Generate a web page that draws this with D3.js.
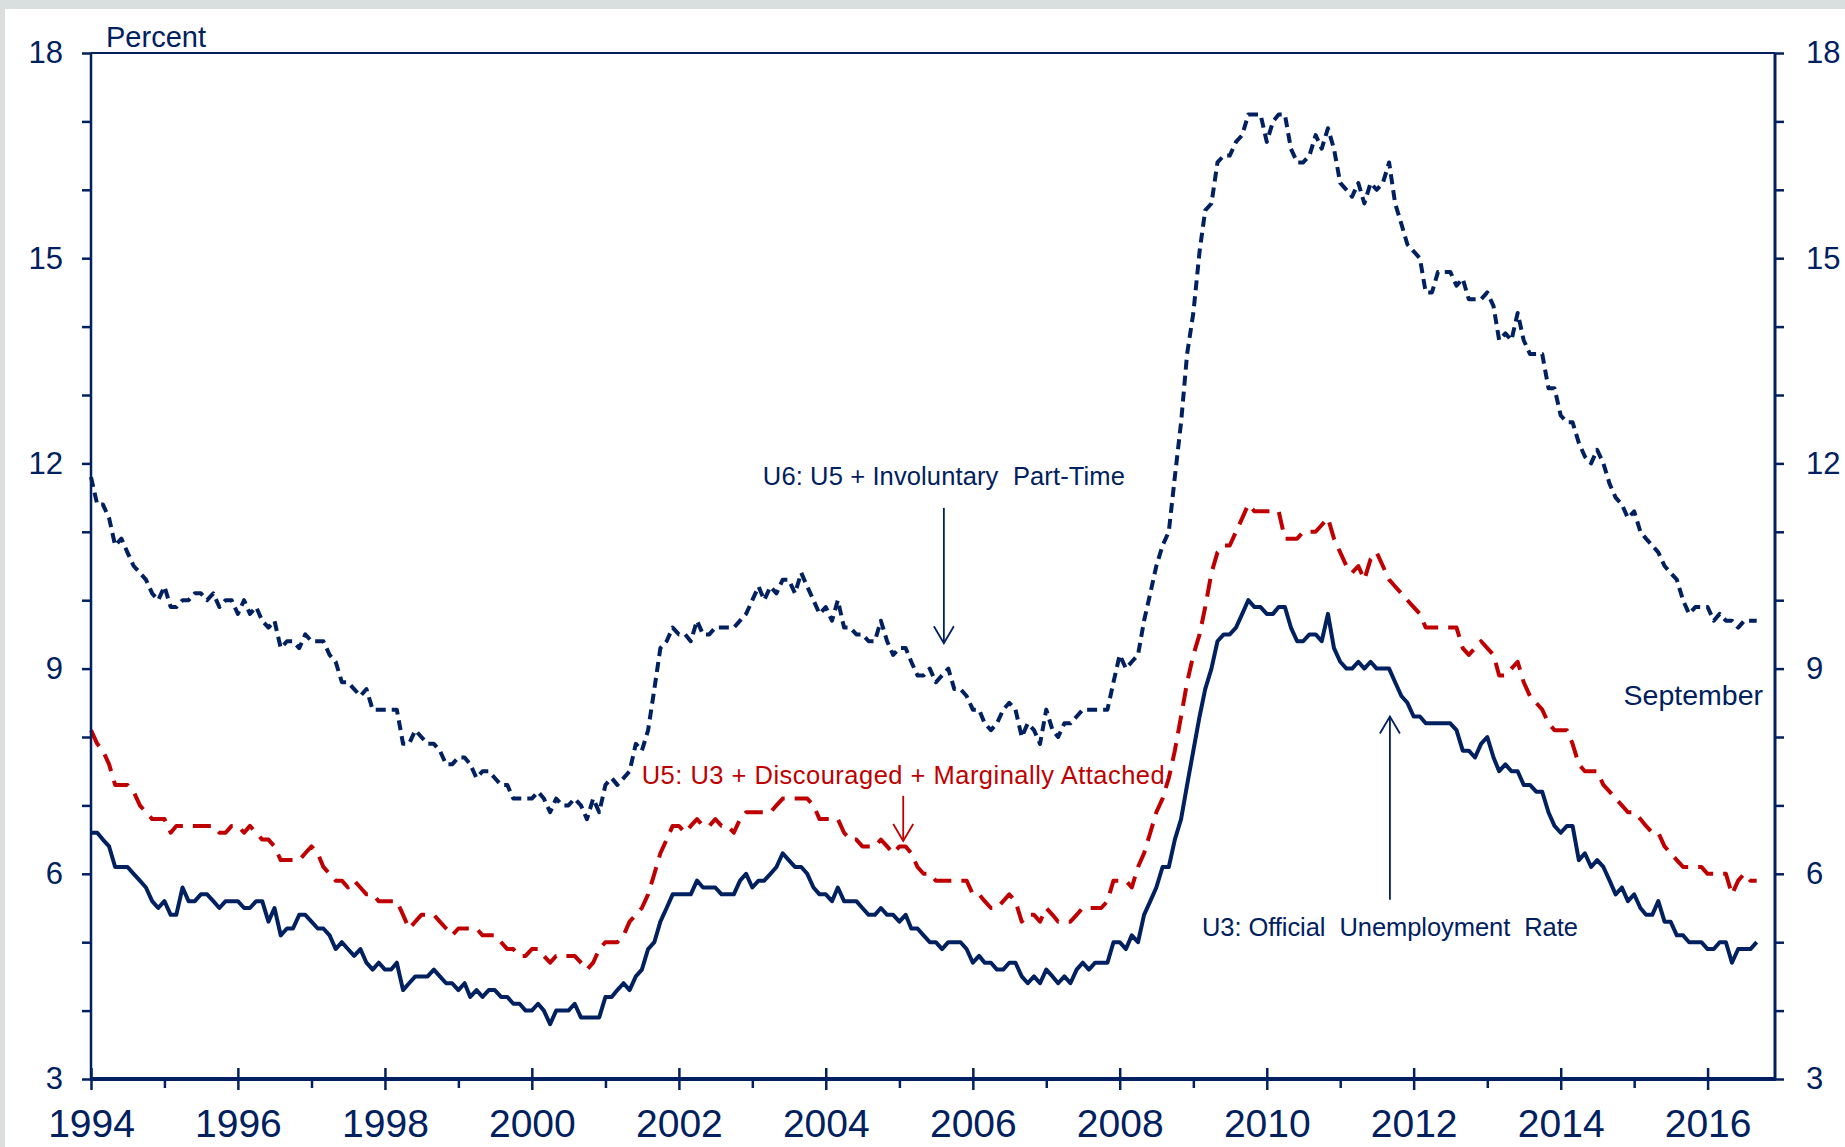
<!DOCTYPE html>
<html>
<head>
<meta charset="utf-8">
<script src="https://cdn.jsdelivr.net/npm/d3@7"></script>
<style>
  html, body { margin: 0; padding: 0; background: #d9dfdf; }
  svg { display: block; }
  text { font-family: "Liberation Sans", Arial, sans-serif; }
</style>
</head>
<body>
<svg id="chart" width="1845" height="1147"></svg>
<script>

// monthly values, Jan 1994 - Sep 2016
var startYear = 1994;

var u3 = [
  6.6,6.6,6.5,6.4,6.1,6.1,6.1,6.0,5.9,5.8,5.6,5.5,
  5.6,5.4,5.4,5.8,5.6,5.6,5.7,5.7,5.6,5.5,5.6,5.6,
  5.6,5.5,5.5,5.6,5.6,5.3,5.5,5.1,5.2,5.2,5.4,5.4,
  5.3,5.2,5.2,5.1,4.9,5.0,4.9,4.8,4.9,4.7,4.6,4.7,
  4.6,4.6,4.7,4.3,4.4,4.5,4.5,4.5,4.6,4.5,4.4,4.4,
  4.3,4.4,4.2,4.3,4.2,4.3,4.3,4.2,4.2,4.1,4.1,4.0,
  4.0,4.1,4.0,3.8,4.0,4.0,4.0,4.1,3.9,3.9,3.9,3.9,
  4.2,4.2,4.3,4.4,4.3,4.5,4.6,4.9,5.0,5.3,5.5,5.7,
  5.7,5.7,5.7,5.9,5.8,5.8,5.8,5.7,5.7,5.7,5.9,6.0,
  5.8,5.9,5.9,6.0,6.1,6.3,6.2,6.1,6.1,6.0,5.8,5.7,
  5.7,5.6,5.8,5.6,5.6,5.6,5.5,5.4,5.4,5.5,5.4,5.4,
  5.3,5.4,5.2,5.2,5.1,5.0,5.0,4.9,5.0,5.0,5.0,4.9,
  4.7,4.8,4.7,4.7,4.6,4.6,4.7,4.7,4.5,4.4,4.5,4.4,
  4.6,4.5,4.4,4.5,4.4,4.6,4.7,4.6,4.7,4.7,4.7,5.0,
  5.0,4.9,5.1,5.0,5.4,5.6,5.8,6.1,6.1,6.5,6.8,7.3,
  7.8,8.3,8.7,9.0,9.4,9.5,9.5,9.6,9.8,10.0,9.9,9.9,
  9.8,9.8,9.9,9.9,9.6,9.4,9.4,9.5,9.5,9.4,9.8,9.3,
  9.1,9.0,9.0,9.1,9.0,9.1,9.0,9.0,9.0,8.8,8.6,8.5,
  8.3,8.3,8.2,8.2,8.2,8.2,8.2,8.1,7.8,7.8,7.7,7.9,
  8.0,7.7,7.5,7.6,7.5,7.5,7.3,7.3,7.2,7.2,6.9,6.7,
  6.6,6.7,6.7,6.2,6.3,6.1,6.2,6.1,5.9,5.7,5.8,5.6,
  5.7,5.5,5.4,5.4,5.6,5.3,5.3,5.1,5.1,5.0,5.0,5.0,
  4.9,4.9,5.0,5.0,4.7,4.9,4.9,4.9,5.0
];

var u5 = [
  8.1,7.9,7.8,7.6,7.3,7.3,7.3,7.2,7.0,6.9,6.8,6.8,
  6.8,6.6,6.7,6.7,6.7,6.7,6.7,6.7,6.7,6.6,6.6,6.7,
  6.7,6.6,6.7,6.6,6.5,6.5,6.4,6.2,6.2,6.2,6.2,6.3,
  6.4,6.3,6.1,6.0,5.9,5.9,5.8,5.9,5.8,5.7,5.7,5.6,
  5.6,5.6,5.6,5.4,5.2,5.3,5.4,5.4,5.4,5.3,5.2,5.1,
  5.2,5.2,5.2,5.2,5.1,5.1,5.1,5.0,4.9,4.9,4.8,4.8,
  4.9,4.9,4.8,4.7,4.8,4.8,4.8,4.8,4.7,4.6,4.7,4.9,
  5.0,5.0,5.0,5.1,5.3,5.4,5.5,5.7,6.0,6.3,6.5,6.7,
  6.7,6.6,6.7,6.8,6.7,6.7,6.8,6.7,6.7,6.6,6.8,6.9,
  6.9,6.9,6.9,6.9,7.0,7.1,7.1,7.1,7.1,7.1,7.0,6.8,
  6.8,6.8,6.8,6.6,6.5,6.5,6.4,6.4,6.4,6.5,6.4,6.3,
  6.4,6.4,6.3,6.1,6.0,6.0,5.9,5.9,5.9,5.9,5.9,5.9,
  5.7,5.7,5.6,5.5,5.5,5.6,5.7,5.6,5.3,5.4,5.4,5.3,
  5.5,5.4,5.3,5.3,5.3,5.4,5.5,5.5,5.5,5.5,5.6,5.9,
  5.9,5.9,5.8,6.1,6.3,6.6,6.9,7.1,7.4,7.8,8.3,8.8,
  9.2,9.5,9.9,10.4,10.7,10.8,10.8,11.0,11.2,11.4,11.3,11.3,
  11.3,11.3,11.3,10.9,10.9,10.9,11.0,11.0,11.0,11.1,11.2,10.9,
  10.7,10.5,10.4,10.5,10.3,10.6,10.7,10.5,10.3,10.2,10.1,10.0,
  9.9,9.8,9.6,9.6,9.6,9.6,9.6,9.6,9.3,9.2,9.3,9.4,
  9.3,9.2,8.9,8.9,9.0,9.1,8.8,8.6,8.5,8.4,8.2,8.1,
  8.1,8.1,7.9,7.6,7.5,7.5,7.5,7.3,7.2,7.1,7.0,6.9,
  6.9,6.8,6.7,6.6,6.6,6.4,6.3,6.2,6.1,6.1,6.1,6.1,
  6.0,6.0,6.0,6.0,5.7,5.9,6.0,5.9,5.9
];

var u6 = [
  11.8,11.4,11.4,11.2,10.8,10.9,10.7,10.5,10.4,10.3,10.1,10.0,
  10.2,9.9,9.9,10.0,10.0,10.1,10.1,10.0,10.1,9.9,10.0,10.0,
  9.8,10.0,9.8,9.9,9.7,9.6,9.7,9.3,9.4,9.4,9.3,9.5,
  9.4,9.4,9.4,9.2,9.1,8.8,8.8,8.7,8.6,8.7,8.4,8.4,
  8.4,8.4,8.4,7.9,7.9,8.1,8.0,7.9,7.9,7.8,7.6,7.6,
  7.7,7.7,7.6,7.4,7.5,7.5,7.4,7.3,7.3,7.1,7.1,7.1,
  7.1,7.2,7.1,6.9,7.1,7.0,7.0,7.1,7.0,6.8,7.1,6.9,
  7.3,7.4,7.3,7.4,7.5,7.9,7.8,8.1,8.7,9.3,9.4,9.6,
  9.5,9.5,9.4,9.7,9.5,9.5,9.6,9.6,9.6,9.6,9.7,9.8,
  10.0,10.2,10.0,10.2,10.1,10.3,10.3,10.1,10.4,10.2,10.0,9.8,
  9.9,9.7,10.0,9.6,9.6,9.5,9.5,9.4,9.4,9.7,9.4,9.2,
  9.3,9.3,9.1,8.9,8.9,9.0,8.8,8.9,9.0,8.7,8.7,8.6,
  8.4,8.4,8.2,8.1,8.2,8.4,8.5,8.4,8.0,8.2,8.1,7.9,
  8.4,8.1,8.0,8.2,8.2,8.3,8.4,8.4,8.4,8.4,8.4,8.8,
  9.2,9.0,9.1,9.2,9.7,10.1,10.5,10.8,11.0,11.8,12.6,13.6,
  14.2,15.1,15.7,15.8,16.4,16.5,16.5,16.7,16.8,17.1,17.1,17.1,
  16.7,17.0,17.1,17.1,16.6,16.4,16.4,16.5,16.8,16.6,16.9,16.6,
  16.1,16.0,15.9,16.1,15.8,16.1,16.0,16.1,16.4,15.8,15.5,15.2,
  15.1,15.0,14.5,14.5,14.8,14.8,14.8,14.6,14.7,14.4,14.4,14.4,
  14.5,14.3,13.8,13.9,13.8,14.2,13.8,13.6,13.6,13.6,13.1,13.1,
  12.7,12.6,12.6,12.3,12.1,12.0,12.2,12.0,11.7,11.5,11.4,11.2,
  11.3,11.0,10.9,10.8,10.7,10.5,10.4,10.3,10.0,9.8,9.9,9.9,
  9.9,9.7,9.8,9.7,9.7,9.6,9.7,9.7,9.7
];

var yLabels = [3, 6, 9, 12, 15, 18];
var yearLabels = d3.range(1994, 2017, 2);
var minorYears = d3.range(1995, 2017, 2);

var navy = "#002060";
var red = "#c00000";

var svg = d3.select("#chart");

svg.append("rect")
    .attr("x", 5).attr("y", 9)
    .attr("width", 1840).attr("height", 1138)
    .attr("fill", "#ffffff");

// plot box
var plotLeft = 91, plotRight = 1775, plotTop = 53, plotBottom = 1079;

var x = d3.scaleTime()
    .domain([new Date(1994, 0, 1), new Date(2016, 11, 1)])
    .range([plotLeft, plotRight]);

var y = d3.scaleLinear()
    .domain([3, 18])
    .range([plotBottom, plotTop]);

function toPoints(values) {
  return values.map(function(v, i) {
    return { date: new Date(startYear, i, 1), v: v };
  });
}

var line = d3.line()
    .x(function(d) { return x(d.date); })
    .y(function(d) { return y(d.v); });

// series
var series = [
  { values: u6, color: navy, dash: "10,6" },
  { values: u5, color: red, dash: "18,10" },
  { values: u3, color: navy, dash: null }
];

series.forEach(function(s) {
  svg.append("path")
      .datum(toPoints(s.values))
      .attr("fill", "none")
      .attr("stroke", s.color)
      .attr("stroke-width", 4)
      .attr("stroke-linejoin", "round")
      .attr("stroke-dasharray", s.dash)
      .attr("d", line);
});

// y axes
var yTickFormat = function(d) { return yLabels.indexOf(d) >= 0 ? d : ""; };

var yLeft = svg.append("g")
    .attr("transform", "translate(" + plotLeft + ",0)")
    .call(d3.axisLeft(y).tickValues(d3.range(3, 19)).tickSize(9).tickPadding(19).tickFormat(yTickFormat));

var yRight = svg.append("g")
    .attr("transform", "translate(" + plotRight + ",0)")
    .call(d3.axisRight(y).tickValues(d3.range(3, 19)).tickSize(9).tickPadding(22).tickFormat(yTickFormat));

[yLeft, yRight].forEach(function(g) {
  g.select(".domain").remove();
  g.selectAll(".tick line").attr("stroke", navy).attr("stroke-width", 2.5);
  g.selectAll(".tick text")
      .attr("fill", navy)
      .style("font-size", "31px")
      .style("font-family", "'Liberation Sans', Arial, sans-serif");
});

// x axis: major ticks cross the axis, minor ones hang below
var xMajor = svg.append("g")
    .attr("transform", "translate(0," + plotBottom + ")")
    .call(d3.axisBottom(x)
        .tickValues(yearLabels.map(function(yr) { return new Date(yr, 0, 1); }))
        .tickSize(11).tickPadding(19)
        .tickFormat(d3.timeFormat("%Y")));

xMajor.select(".domain").remove();
xMajor.selectAll(".tick line").attr("y1", -11).attr("stroke", navy).attr("stroke-width", 2.5);
xMajor.selectAll(".tick text")
    .attr("fill", navy)
    .style("font-size", "39px")
    .style("font-family", "'Liberation Sans', Arial, sans-serif");

var xMinor = svg.append("g")
    .attr("transform", "translate(0," + plotBottom + ")")
    .call(d3.axisBottom(x)
        .tickValues(minorYears.map(function(yr) { return new Date(yr, 0, 1); }))
        .tickSize(9).tickFormat(""));

xMinor.select(".domain").remove();
xMinor.selectAll(".tick line").attr("stroke", navy).attr("stroke-width", 2.5);

// frame
svg.append("line").attr("x1", plotLeft).attr("x2", plotRight).attr("y1", plotTop).attr("y2", plotTop)
    .attr("stroke", navy).attr("stroke-width", 2);
svg.append("line").attr("x1", plotLeft).attr("x2", plotLeft).attr("y1", plotTop).attr("y2", plotBottom)
    .attr("stroke", navy).attr("stroke-width", 2.5);
svg.append("line").attr("x1", plotRight).attr("x2", plotRight).attr("y1", plotTop).attr("y2", plotBottom)
    .attr("stroke", navy).attr("stroke-width", 3);
svg.append("line").attr("x1", plotLeft - 1).attr("x2", plotRight + 1).attr("y1", plotBottom).attr("y2", plotBottom)
    .attr("stroke", navy).attr("stroke-width", 4);

svg.append("text")
    .attr("x", 106).attr("y", 47)
    .attr("fill", navy)
    .style("font-size", "29px")
    .text("Percent");

// annotations
function label(txt, cx, baseline, width, color) {
  svg.append("text")
      .attr("x", cx).attr("y", baseline)
      .attr("text-anchor", "middle")
      .attr("fill", color)
      .attr("textLength", width)
      .attr("lengthAdjust", "spacing")
      .style("white-space", "pre")
      .style("font-size", "25.5px")
      .text(txt);
}

function arrow(ax, yFrom, yTo, color) {
  var dir = yTo > yFrom ? -1 : 1;
  svg.append("line")
      .attr("x1", ax).attr("x2", ax)
      .attr("y1", yFrom).attr("y2", yTo)
      .attr("stroke", color).attr("stroke-width", 1.8);
  svg.append("polyline")
      .attr("points", [[ax - 10, yTo + dir * 17], [ax, yTo], [ax + 10, yTo + dir * 17]].join(" "))
      .attr("fill", "none")
      .attr("stroke", color).attr("stroke-width", 1.8);
}

var u6x = x(new Date(2005, 7, 10));
label("U6: U5 + Involuntary  Part-Time", u6x, y(11.68), 362, navy);
arrow(u6x, y(11.35), y(9.37), navy);

var u5x = x(new Date(2005, 0, 20));
label("U5: U3 + Discouraged + Marginally Attached", u5x, y(7.32), 523, red);
arrow(u5x, y(7.14), y(6.48), red);

var u3x = x(new Date(2011, 8, 5));
label("U3: Official  Unemployment  Rate", u3x, y(5.09), 376, navy);
arrow(u3x, y(5.62), y(8.3), navy);

svg.append("text")
    .attr("x", 1763).attr("y", 705)
    .attr("text-anchor", "end")
    .attr("fill", navy)
    .style("font-size", "28.5px")
    .text("September");

</script>
</body>
</html>
